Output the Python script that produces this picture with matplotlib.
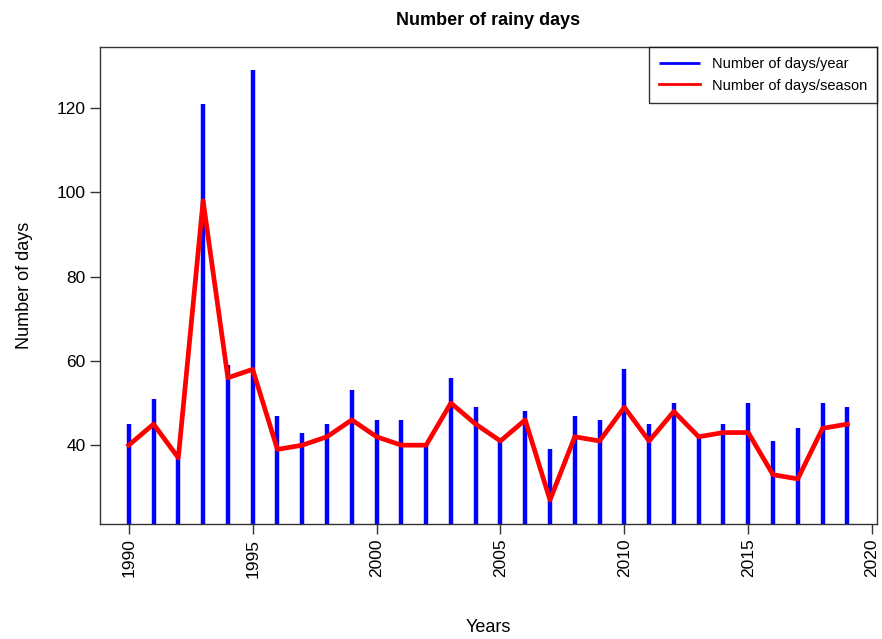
import matplotlib.pyplot as plt

plt.rcParams['font.family'] = ['Liberation Sans', 'DejaVu Sans']

years = list(range(1990, 2020))
days_year = [45, 51, 37, 121, 59, 129, 47, 43, 45, 53,
             46, 46, 40, 56, 49, 41, 48, 39, 47, 46,
             58, 45, 50, 42, 45, 50, 41, 44, 50, 49]
days_season = [40, 45, 37, 98, 56, 58, 39, 40, 42, 46,
               42, 40, 40, 50, 45, 41, 46, 27, 42, 41,
               49, 41, 48, 42, 43, 43, 33, 32, 44, 45]
xticks = [1990, 1995, 2000, 2005, 2010, 2015, 2020]
yticks = [40, 60, 80, 100, 120]

fig = plt.figure(figsize=(8.82, 6.39), dpi=100)
ax = fig.add_axes([0.1134, 0.18, 0.881, 0.7464])

ax.vlines(years, 0, days_year, colors='blue', linewidth=3.2, label='Number of days/year')
ax.plot(years, days_season, color='red', linewidth=3.4, label='Number of days/season')

ax.set_xlim(1988.84, 2020.2)
ax.set_ylim(21.3, 134.5)
ax.set_xticks(xticks)
ax.set_xticklabels([str(t) for t in xticks], rotation=90)
ax.set_yticks(yticks)
ax.tick_params(labelsize=12.5, length=7, width=1, color='#333333', direction='out')
for s in ax.spines.values():
    s.set_color('#333333')
    s.set_linewidth(1)

ax.set_title('Number of rainy days', fontsize=13, fontweight='bold', pad=16)
ax.set_xlabel('Years', fontsize=13, labelpad=30)
ax.set_ylabel('Number of days', fontsize=13, labelpad=17)

leg = ax.legend(loc='upper right', fontsize=10.5, frameon=True, fancybox=False,
                edgecolor='black', borderaxespad=0, handlelength=2.8, borderpad=0.7)
leg.get_frame().set_linewidth(1)
for h in leg.legend_handles:
    h.set_linewidth(2)

fig.savefig('out.png', dpi=100)
